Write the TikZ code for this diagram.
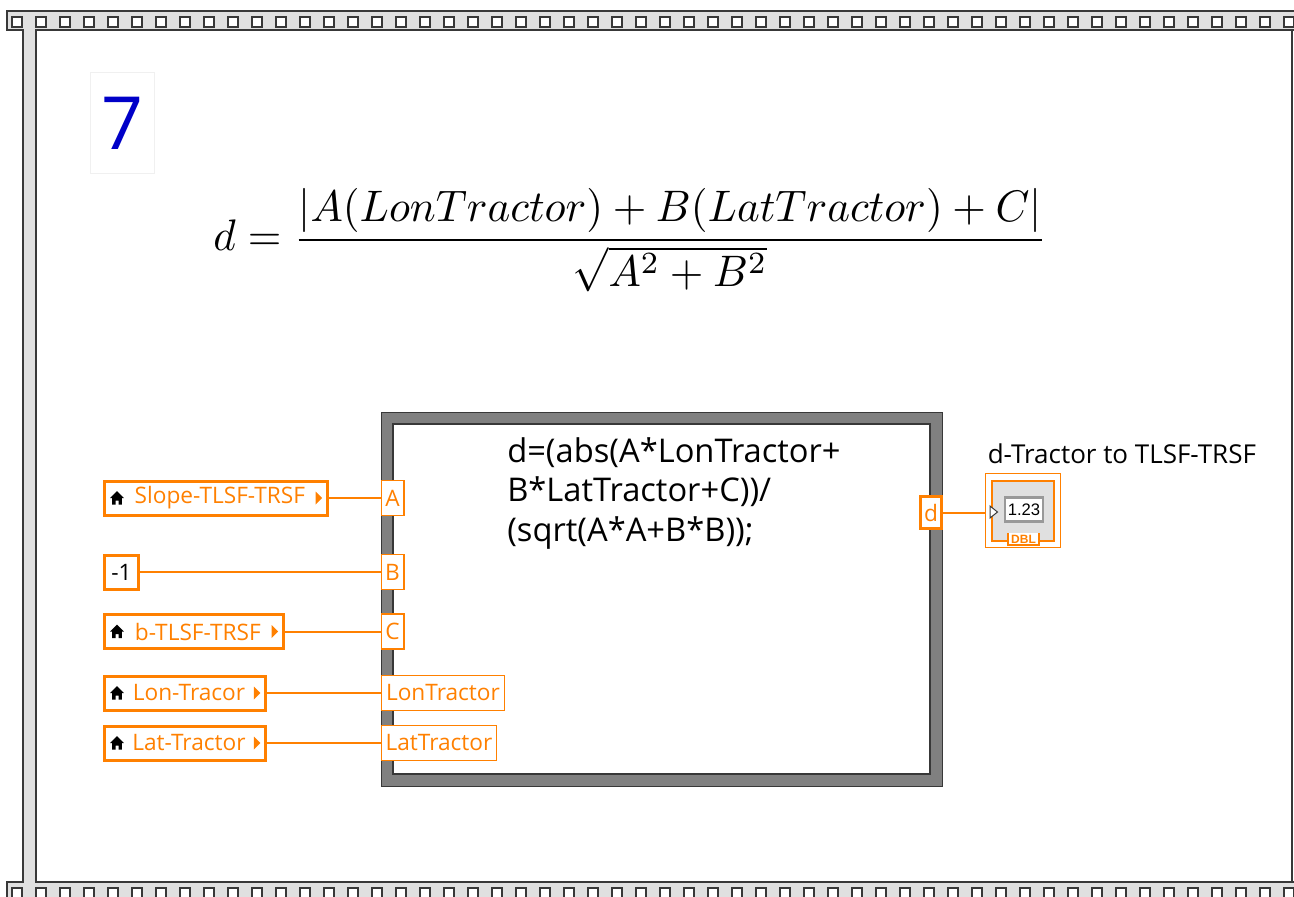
\documentclass[tikz,border=0pt]{standalone}
\usepackage{amsmath}
\usepackage{graphicx}
\usepackage{fontspec}
\usepackage{tikz}
\usetikzlibrary{positioning, calc}

\newfontfamily\lvfamily{Open Sans}
\newfontfamily\digitfamily{Liberation Sans}
\newcommand{\lvfont}{\lvfamily\fontsize{17}{20}\selectfont}
\newcommand{\labfont}{\lvfamily\fontsize{19.5}{22}\selectfont}
\newcommand{\codefont}{\lvfamily\fontsize{24.5}{29.6}\selectfont}

\definecolor{lvorange}{RGB}{255,128,0}
\definecolor{stripgray}{RGB}{224,224,224}
\definecolor{framedark}{RGB}{56,56,56}
\definecolor{structgray}{RGB}{128,128,128}
\definecolor{seqblue}{RGB}{0,0,200}

% little glyphs inside the control terminals
\tikzset{
    homeicon/.pic={\fill[black] (-4.8,6.5) -- (-4.8,0) -- (-6.8,0) -- (0,-6.8) -- (6.8,0) -- (4.8,0) -- (4.8,6.5) -- (1.5,6.5) -- (1.5,2.6) -- (-1.5,2.6) -- (-1.5,6.5) -- cycle;},
    dirmark/.pic={\fill[lvorange] (-3,-6.5) -- (3.5,0) -- (-3,6.5) -- cycle;}
}

\begin{document}
\begin{tikzpicture}[x=0.75pt, y=-0.75pt,
    ctrl/.style={draw=lvorange, line width=2.25pt, fill=white, text=lvorange, font=\lvfont, inner sep=1pt, minimum height=25.5pt, anchor=west},
    term/.style={draw=lvorange, line width=1.1pt, fill=white, text=lvorange, font=\lvfont, inner sep=1pt, minimum height=26.5pt, minimum width=17pt, anchor=west},
    wire/.style={lvorange, line width=1.5pt},
    edge/.style={framedark, line width=1.5pt}]

    \useasboundingbox (0,0) rectangle (1294,896);
    \clip (0,0) rectangle (1294,896);

    % film strip border of the sequence frame
    \fill[stripgray] (7,11) rectangle (1300,30);
    \fill[stripgray] (7,882) rectangle (1300,900);
    \fill[stripgray] (23,30) rectangle (36,882);
    \draw[edge] (1300,11) -- (7,11) -- (7,30) -- (23,30) -- (23,882) -- (7,882) -- (7,900);
    \draw[edge] (1300,30) -- (36,30) -- (36,882) -- (1300,882);
    \draw[edge] (1292,30) -- (1292,882);
    \foreach \i in {0,...,53} {
        \draw[edge, fill=white] ({11.5+24*\i},16.5) rectangle +(10,10);
        \draw[edge, fill=white] ({11.5+24*\i},887.5) rectangle +(10,10);
    }

    % frame number
    \node[draw=black!6, fill=white, minimum width=48pt, minimum height=76pt, inner sep=0, text=seqblue, font=\lvfamily\fontsize{55}{55}\selectfont] (seq) at (122,123) {7};

    % distance formula
    \node[inner sep=0] (eq) at (630,240) {\resizebox*{625pt}{78pt}{$\displaystyle d=\frac{|A(LonTractor)+B(LatTractor)+C|}{\sqrt{A^2+B^2}}$}};

    % formula node
    \draw[framedark, line width=0.75pt, fill=structgray] (381,412) rectangle (942,786);
    \draw[framedark, line width=1.5pt, fill=white] (393,424) rectangle (930,774);
    \node[anchor=north west, align=left, font=\codefont, inner sep=0] (code) at (507,437) {d=(abs(A*LonTractor+\\B*LatTractor+C))/\\(sqrt(A*A+B*B));};

    % inputs of the formula node
    \node[term] (tA) at (380.5,498) {A};
    \node[term] (tB) at (380.5,572) {B};
    \node[term] (tC) at (380.5,631.5) {C};
    \node[term, minimum width=92.6pt] (tLon) at (380.5,693) {LonTractor};
    \node[term, minimum width=86.6pt] (tLat) at (380.5,743) {LatTractor};

    % controls and constant
    \node[ctrl, minimum width=167pt] (slope) at (103,498) {\hspace{6pt}Slope-TLSF-TRSF\hspace{5pt}};
    \node[ctrl, minimum width=25.5pt, text=black] (minus) at (103,572) {-1};
    \node[ctrl, minimum width=134pt] (offset) at (103,631.5) {\hspace{6pt}b-TLSF-TRSF\hspace{5pt}};
    \node[ctrl, minimum width=120.7pt] (lon) at (103,693) {\hspace{6pt}Lon-Tracor\hspace{5pt}};
    \node[ctrl, minimum width=120.7pt] (lat) at (103,743) {\hspace{6pt}Lat-Tractor\hspace{5pt}};
    \foreach \c in {slope, offset, lon, lat} {
        \pic at ([xshift=10.5pt]\c.west) {homeicon};
        \pic at ([xshift=-7.5pt]\c.east) {dirmark};
    }

    \draw[wire] (slope) -- (tA);
    \draw[wire] (minus) -- (tB);
    \draw[wire] (offset) -- (tC);
    \draw[wire] (lon) -- (tLon);
    \draw[wire] (lat) -- (tLat);

    % output and indicator
    \node[term, line width=2.25pt, minimum height=24pt, minimum width=15.75pt, anchor=center] (td) at (931,512.5) {d};
    \node[draw=lvorange, line width=1.1pt, fill=white, minimum width=56.6pt, minimum height=55.2pt, inner sep=0, anchor=west] (ind) at (984.5,510.5) {};
    \draw[lvorange, line width=1.1pt, fill=stripgray] (992,481) rectangle (1054,541);
    \fill[white] (1008,533) rectangle (1039,545);
    \draw[lvorange, line width=1.1pt] (1008,533) -- (1008,545) -- (1039,545) -- (1039,533);
    \node[text=lvorange, inner sep=0, font=\digitfamily\bfseries\fontsize{9}{9}\selectfont] (tag) at (1023.5,539.5) {DBL};
    \node[draw=structgray!80, line width=2.2pt, fill=white, inner sep=1pt, minimum width=28.5pt, minimum height=18pt, font=\digitfamily\fontsize{12.5}{12.5}\selectfont] (disp) at (1024,509.5) {1.23};
    \draw[framedark, fill=white, line width=0.75pt] (990,506) -- (997.5,512) -- (990,518) -- cycle;
    \node[anchor=south west, font=\labfont, inner sep=0] (indlabel) at ([shift={(3,-9)}]ind.north west) {d-Tractor to TLSF-TRSF};

    \draw[wire] (td.east) -- (td.east -| ind.west);
\end{tikzpicture}
\end{document}
